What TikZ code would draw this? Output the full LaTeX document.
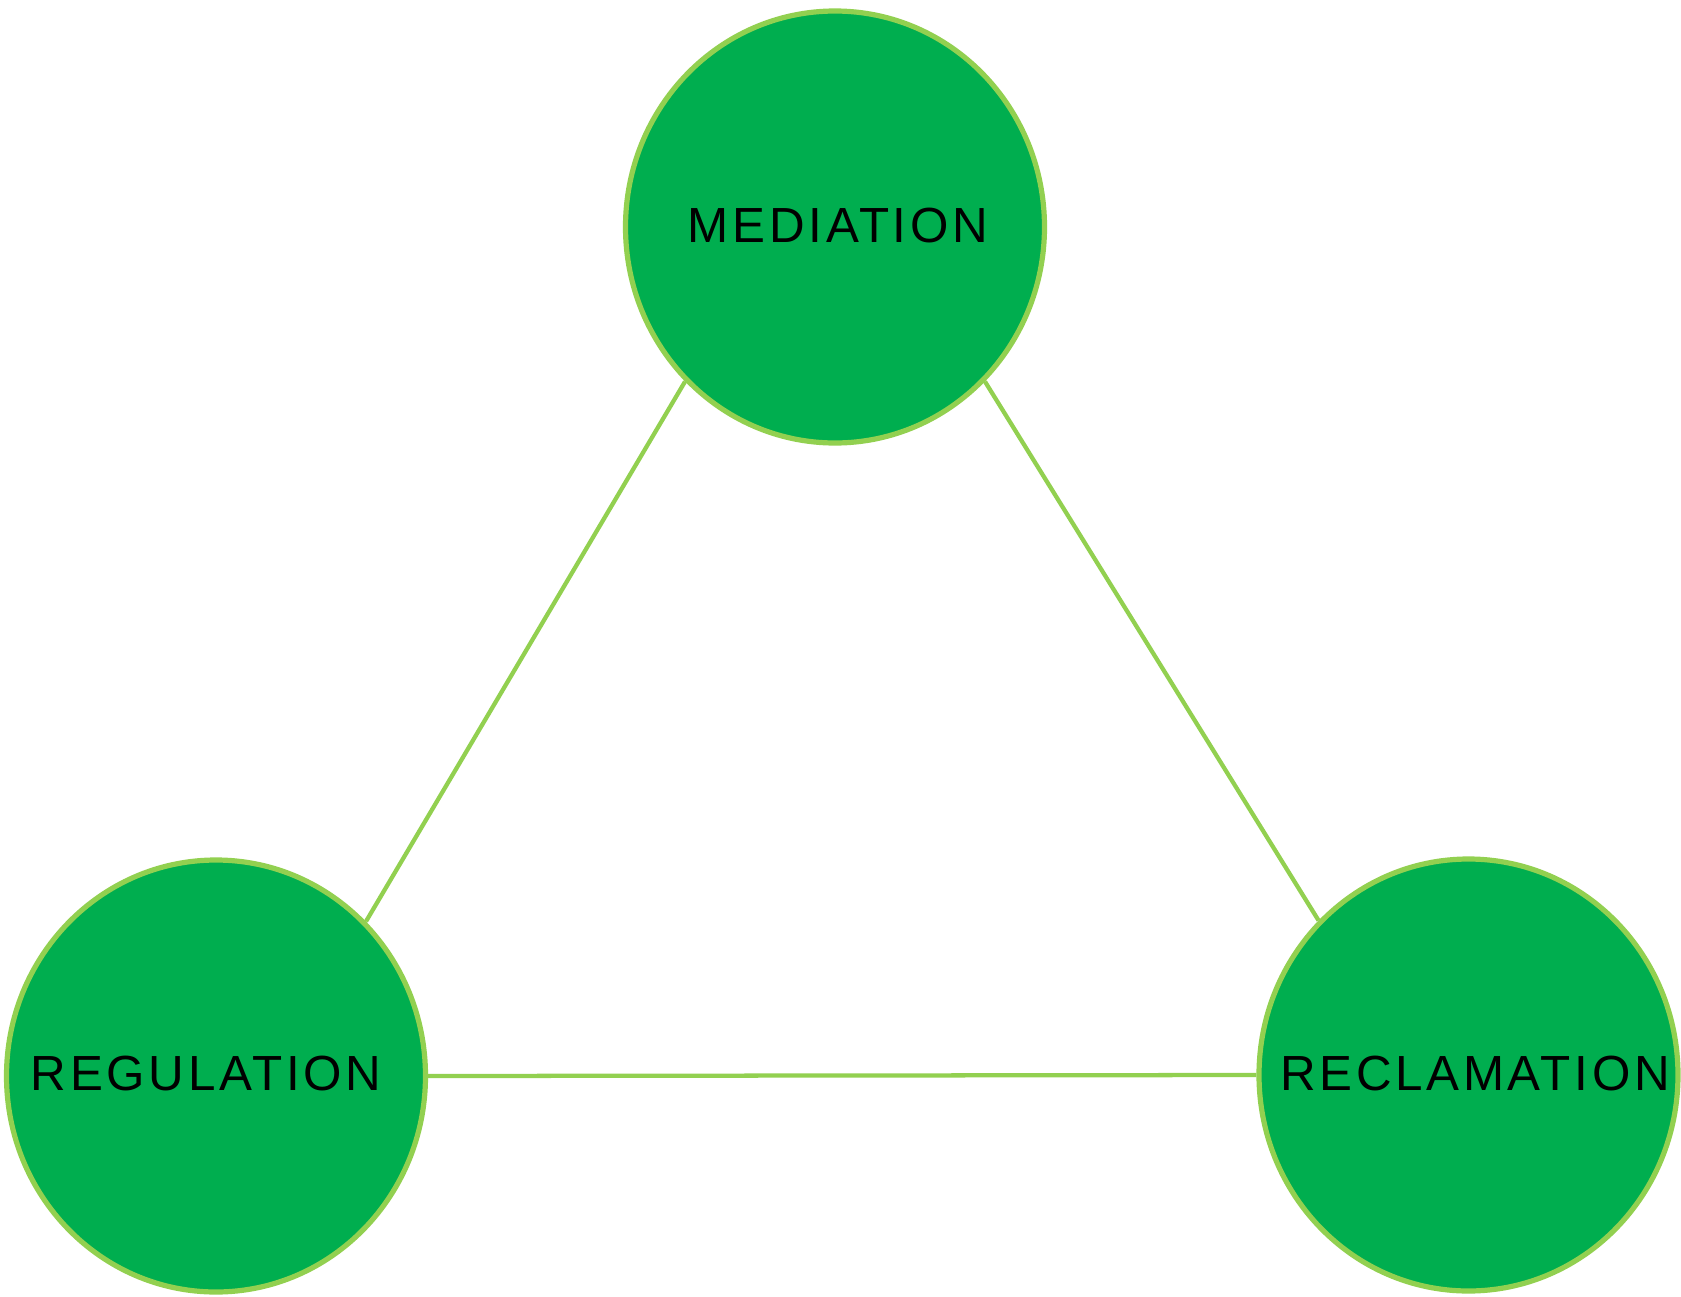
\documentclass[tikz,border=0pt]{standalone}
\usepackage{fontspec}
\setmainfont{Liberation Sans}[LetterSpace=7.5]
\usetikzlibrary{shapes.geometric}
\definecolor{fillgreen}{HTML}{00AE4F}
\definecolor{edgegreen}{HTML}{92D050}
\begin{document}
\begin{tikzpicture}[x=0.75pt,y=-0.75pt,
  bubble/.style={ellipse, draw=edgegreen, fill=fillgreen, line width=3.9pt,
    minimum width=314.25pt, minimum height=324pt, inner sep=0pt},
  lbl/.style={font=\fontsize{37pt}{41pt}\selectfont, text=black, inner sep=0pt},
  link/.style={draw=edgegreen, line width=3.2pt}]
\useasboundingbox (0,0) rectangle (1681,1296);
\node[bubble] (med) at (835,227) {};
\node[bubble] (reg) at (216,1076) {};
\node[bubble] (rec) at (1468.5,1075) {};
\node[lbl] (medt) at (838,226) {MEDIATION};
\node[lbl] (regt) at (206,1074) {REGULATION};
\node[lbl] (rect) at (1475,1074) {RECLAMATION};
\draw[link] (med.south west) -- (reg.north east);
\draw[link] (med.south east) -- (rec.north west);
\draw[link] (reg.east) -- (rec.west);
\end{tikzpicture}
\end{document}
